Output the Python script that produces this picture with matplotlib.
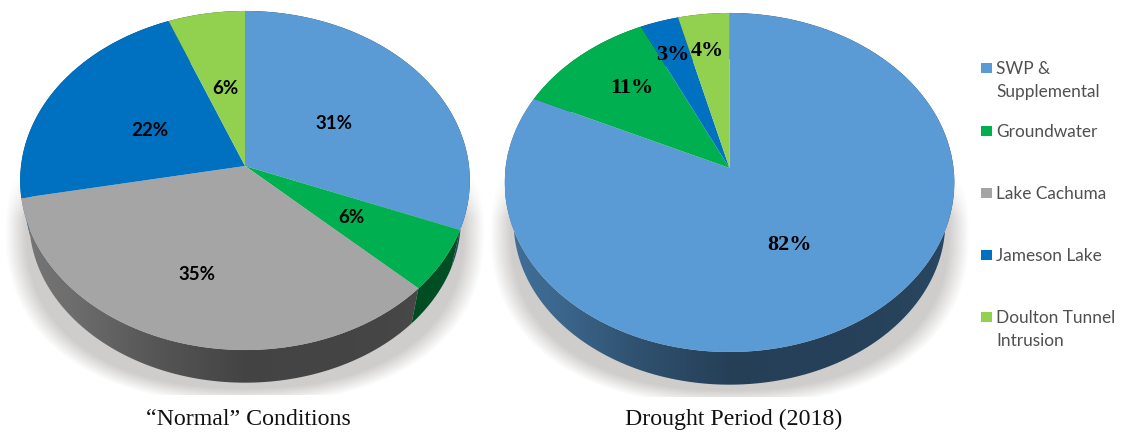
import numpy as np
import matplotlib
matplotlib.use("Agg")
import matplotlib.pyplot as plt
from matplotlib.colors import ListedColormap
from matplotlib.patches import Polygon, Rectangle
from matplotlib.transforms import Transform

# water supply shares, percent
normal_names = ["SWP", "Groundwater", "Lake Cachuma", "Jameson Lake", "Doulton"]
normal_values = [31, 6, 35, 22, 6]
normal_colors = ["#5B9BD5", "#00B050", "#A5A5A5", "#0070C0", "#92D050"]

drought_names = ["SWP", "Groundwater", "Jameson Lake", "Doulton"]
drought_values = [82, 11, 3, 4]
drought_colors = ["#5B9BD5", "#00B050", "#0070C0", "#92D050"]

legend_labels = ["SWP &\nSupplemental", "Groundwater", "Lake Cachuma",
                 "Jameson Lake", "Doulton Tunnel\nIntrusion"]
legend_colors = ["#5B9BD5", "#00B050", "#A5A5A5", "#0070C0", "#92D050"]
legend_y = [68, 131, 193, 255, 317]

normal_label_xy = [(334, 123.5), (351.5, 217.5), (197, 275), (150, 131), (225, 89)]
drought_label_xy = [(790, 245), (632, 88), (672.5, 55), (707, 51)]

W, H = 1121, 433
TILT = 0.0855


class Tilt(Transform):
    # unit pie circle -> pixel position, far edge squeezed by perspective
    input_dims = 2
    output_dims = 2

    def __init__(self, cx, cy, rx=224, ry=168.3, scale=1.0, drop=0):
        super().__init__()
        self.cx, self.cy, self.rx, self.ry = cx, cy, rx, ry
        self.scale, self.drop = scale, drop

    def transform_non_affine(self, values):
        u, v = values[:, 0], values[:, 1]
        w = 1 / (1 + TILT * v)
        return np.column_stack([self.cx + self.scale * self.rx * u * w,
                                self.cy - self.scale * self.ry * v * w + self.drop])


def side_shade(f):
    # darkest around the middle of the rim, lighter towards the ends
    return np.interp(f, [0, 0.12, 0.3, 0.5, 0.8, 1], [0.72, 0.66, 0.52, 0.41, 0.42, 0.46])


def draw_shadow(ax, cx, cy):
    xs = np.arange(cx - 260, cx + 260)
    ys = np.arange(165, cy + 230)
    xx, yy = np.meshgrid(xs, ys)
    # slightly squarish blob so it stays wide towards the bottom corners
    r = (np.abs((xx - cx) / 240) ** 2.3 + np.abs((yy - cy - 66) / 172) ** 2.3) ** (1 / 2.3)
    alpha = np.clip((1 - r) / 0.09, 0, 1) * 0.38
    alpha *= np.clip((yy - 172) / 45, 0, 1)
    rgba = np.zeros(xx.shape + (4,))
    rgba[..., :3] = (0.5, 0.48, 0.46)
    rgba[..., 3] = alpha
    ax.imshow(rgba, extent=(xs[0], xs[-1], ys[-1], ys[0]), aspect="auto",
              zorder=1, interpolation="bilinear")


def draw_pie(ax, values, colors, cx, cy):
    top = Tilt(cx, cy)
    base = Tilt(cx, cy, scale=0.96, drop=40)
    draw_shadow(ax, cx, cy)

    wedges, _ = ax.pie(values, colors=colors, startangle=90, counterclock=False,
                       wedgeprops=dict(linewidth=0))
    for wedge in wedges:
        wedge.set_transform(top + ax.transData)
        wedge.set_zorder(5)

    # rim bands, back slices first so the front ones overlap them
    mids = [np.sin(np.radians((w.theta1 + w.theta2) / 2)) for w in wedges]
    for z, i in enumerate(np.argsort(mids)[::-1]):
        w = wedges[i]
        t = np.radians(np.linspace(w.theta1, w.theta2, 200))
        arc = np.column_stack([np.cos(t), np.sin(t)])
        outline = np.vstack([top.transform_non_affine(arc),
                             base.transform_non_affine(arc)[::-1]])
        clip = Polygon(outline, closed=True, transform=ax.transData)
        rgb = np.array(matplotlib.colors.to_rgb(colors[i]))
        grad = np.linspace(0, 1, 256)
        cmap = ListedColormap(np.outer(side_shade(grad), rgb))
        im = ax.imshow(grad[None, :], cmap=cmap, vmin=0, vmax=1, aspect="auto",
                       extent=(cx - 225, cx + 225, 433, 0), zorder=2 + z * 0.1)
        im.set_clip_path(clip)


fig = plt.figure(figsize=(W / 100, H / 100), dpi=100)
ax = fig.add_axes([0, 0, 1, 1])

draw_pie(ax, normal_values, normal_colors, 245, 166)
draw_pie(ax, drought_values, drought_colors, 729.5, 168)

ax.set_aspect("auto")
ax.set_xlim(0, W)
ax.set_ylim(H, 0)
ax.axis("off")

for v, (x, y) in zip(normal_values, normal_label_xy):
    ax.text(x, y, f"{v}%", family="Lato", weight="bold", fontsize=13.5,
            color="black", ha="center", va="center", zorder=8)
for v, (x, y) in zip(drought_values, drought_label_xy):
    ax.text(x, y, f"{v}%", family="Liberation Serif", weight="bold", fontsize=16,
            color="black", ha="center", va="center", zorder=8)

ax.text(248.5, 419.5, "\u201cNormal\u201d Conditions", family="Liberation Serif", fontsize=17.2,
        color="#111111", ha="center", va="center")
ax.text(734, 419.5, "Drought Period (2018)", family="Liberation Serif", fontsize=17.2,
        color="#111111", ha="center", va="center")

# legend
for label, color, y in zip(legend_labels, legend_colors, legend_y):
    ax.add_patch(Rectangle((981, y - 5), 11, 10, facecolor=color, edgecolor="none", zorder=8))
    ax.text(996, y - 7, label, family="Lato", fontsize=12.4, color="#505050",
            ha="left", va="top", linespacing=1.52, zorder=8)

fig.savefig("out.png", dpi=100)
